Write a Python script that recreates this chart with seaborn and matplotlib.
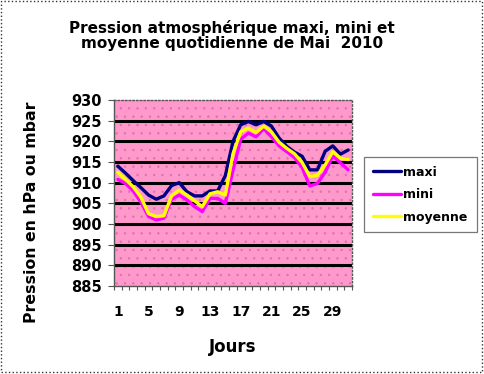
import matplotlib
matplotlib.use("Agg")
import matplotlib.pyplot as plt
import seaborn as sns
import pandas as pd
from matplotlib.lines import Line2D
from matplotlib.patches import Rectangle

days = list(range(1, 32))
maxi = [914.0, 912.3, 910.5, 908.8, 907.0, 906.0, 906.8, 909.3, 910.0, 907.8,
        906.8, 906.8, 908.0, 908.0, 911.7, 920.0, 924.0, 924.8, 924.0, 924.8,
        923.7, 920.8, 918.8, 917.4, 916.4, 913.1, 913.1, 917.6, 918.9, 916.9, 917.9]
mini = [910.8, 909.8, 908.0, 905.3, 901.8, 901.0, 901.4, 906.0, 907.0, 905.8,
        904.2, 903.0, 906.2, 906.2, 905.0, 913.0, 920.5, 922.0, 921.1, 923.1,
        921.1, 918.9, 917.5, 916.1, 913.7, 909.2, 909.8, 912.5, 916.5, 914.8, 913.1]
moyenne = [912.5, 910.8, 909.0, 906.5, 902.5, 901.8, 902.0, 906.8, 908.2, 907.0,
           905.6, 904.2, 907.3, 907.8, 907.0, 917.0, 922.3, 923.2, 922.1, 923.7,
           922.3, 919.8, 918.3, 917.0, 914.9, 911.5, 911.8, 914.3, 917.5, 915.9, 915.6]
series_names = ["maxi", "mini", "moyenne"]
colors = ["#000080", "#FF00FF", "#FFFF00"]
xtick_labels = [1, 5, 9, 13, 17, 21, 25, 29]
yticks = list(range(885, 931, 5))

df = pd.DataFrame({
    "Jour": days * 3,
    "Pression": maxi + mini + moyenne,
    "Série": [series_names[0]] * 31 + [series_names[1]] * 31 + [series_names[2]] * 31,
})

sns.set_theme(style="white")
plt.rcParams["font.family"] = ["DejaVu Sans"]
plt.rcParams["font.weight"] = "bold"
plt.rcParams["hatch.linewidth"] = 0.5
plt.rcParams["text.color"] = "black"
plt.rcParams["axes.labelcolor"] = "black"
plt.rcParams["xtick.color"] = "black"
plt.rcParams["ytick.color"] = "black"

fig = plt.figure(figsize=(4.84, 3.74), dpi=100)
ax = fig.add_axes([114 / 484, 1 - 286 / 374, 238 / 484, 186 / 374])

ax.set_facecolor("#FF99CC")
bg = Rectangle((0, 0), 1, 1, transform=ax.transAxes, facecolor="none",
               edgecolor="#E070AE", hatch="..", linewidth=0, zorder=0.5)
ax.add_patch(bg)

for y in yticks[1:-1]:
    ax.axhline(y, color="black", linewidth=2.2, zorder=1)

sns.lineplot(data=df, x="Jour", y="Pression", hue="Série",
             palette=dict(zip(series_names, colors)), linewidth=2.4,
             ax=ax, legend=False, zorder=3)
ax.set_xlim(0.5, 31.5)
ax.set_ylim(885, 930)
ax.set_yticks(yticks)
ax.set_yticklabels([str(v) for v in yticks], fontsize=10.5, fontweight="bold")
ax.set_xticks(xtick_labels)
ax.set_xticklabels([str(v) for v in xtick_labels], fontsize=10, fontweight="bold")
ax.set_xticks([i + 0.5 for i in range(0, 32)], minor=True)
ax.tick_params(axis="x", which="major", length=0, pad=14)
ax.tick_params(axis="x", which="minor", length=3, color="#555555", width=0.8,
               direction="out", bottom=True)
ax.tick_params(axis="y", which="major", length=4, color="#555555", width=0.8,
               direction="out", left=True, pad=5)
for s in ["left", "bottom", "top", "right"]:
    ax.spines[s].set_color("#555555")
    ax.spines[s].set_linewidth(1.0)
ax.spines["top"].set_linestyle(":")
ax.spines["right"].set_linestyle(":")

ax.set_xlabel("Jours", fontsize=12, fontweight="bold")
ax.set_ylabel("Pression en hPa ou mbar", fontsize=11.3, fontweight="bold")
ax.xaxis.set_label_coords(0.5, (286 - 338) / 186)
ax.yaxis.set_label_coords((39 - 114) / 238, (286 - 212) / 186)

fig.text(232 / 484, 1 - 32.5 / 374, "Pression atmosphérique maxi, mini et",
         ha="center", va="baseline", fontsize=11, fontweight="bold")
fig.text(232 / 484, 1 - 48 / 374, "moyenne quotidienne de Mai  2010",
         ha="center", va="baseline", fontsize=11, fontweight="bold")

handles = [Line2D([0], [0], color=c, linewidth=2.4) for c in colors]
leg = fig.legend(handles, series_names, loc="upper left",
                 bbox_to_anchor=(364 / 484, 1 - 157 / 374), frameon=True,
                 fancybox=False, prop={"size": 9, "weight": "bold"},
                 handlelength=2.25, handletextpad=0.2, labelspacing=0.75,
                 borderpad=0.7, borderaxespad=0)
leg.get_frame().set_edgecolor("#555555")
leg.get_frame().set_linewidth(0.9)
leg.get_frame().set_facecolor("white")

fig.patches.append(Rectangle((1 / 484, 2 / 374), 481 / 484, 371 / 374,
                             transform=fig.transFigure, fill=False,
                             edgecolor="#333333", linestyle=":", linewidth=1.0))

fig.savefig("out.png", dpi=100)
